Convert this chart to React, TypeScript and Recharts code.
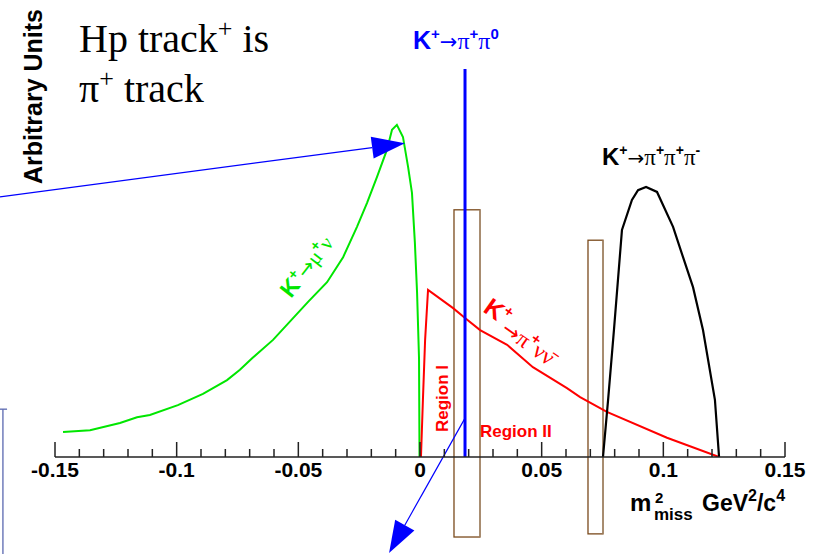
import React from "react";
import { LineChart, Line, XAxis, YAxis, ReferenceLine, ReferenceArea } from "recharts";

const SANS = "'Liberation Sans', Arial, sans-serif";
const SERIF = "'Liberation Serif', 'Times New Roman', serif";
const ARROW = "'DejaVu Sans', sans-serif";

// x ticks every 0.01, labels only on the 0.05 multiples
const xTicks = [
  -0.15, -0.14, -0.13, -0.12, -0.11, -0.1, -0.09, -0.08, -0.07, -0.06, -0.05,
  -0.04, -0.03, -0.02, -0.01, 0, 0.01, 0.02, 0.03, 0.04, 0.05, 0.06, 0.07,
  0.08, 0.09, 0.1, 0.11, 0.12, 0.13, 0.14, 0.15,
];
const xLabels = ["-0.15", "-0.1", "-0.05", "0", "0.05", "0.1", "0.15"];

// K+ -> mu+ nu
const muNuX = [
  -0.1467, -0.1356, -0.1233, -0.1163, -0.111, -0.0995, -0.0892, -0.0793, -0.074,
  -0.069, -0.0604, -0.046, -0.0382, -0.0316, -0.0259, -0.0218, -0.0177, -0.0136,
  -0.0115, -0.0095, -0.007, -0.0049, -0.0033, -0.0021, -0.0012, -0.0004, -0.0002,
];
const muNuY = [
  5.6, 6.0, 7.6, 8.9, 9.4, 11.6, 14.1, 17.2, 19.5, 22.1, 26.2, 34.7, 39.1, 44.7,
  51.5, 56.8, 62.6, 68.7, 73.2, 74.3, 71.6, 64.9, 59.1, 47.9, 36.7, 22.1, 0,
];

// K+ -> pi+ nu nubar
const piNuNuX = [
  0.0004, 0.0012, 0.0021, 0.0033, 0.0136, 0.0185, 0.0247, 0.0358, 0.0464, 0.0604,
  0.0658, 0.0768, 0.1015, 0.1229,
];
const piNuNuY = [0, 12.8, 26.2, 37.4, 33.3, 31.1, 28.4, 25.1, 20.1, 15.4, 13.4, 10.1, 4.3, 0];

// K+ -> pi+ pi+ pi-
const threePiX = [
  0.0752, 0.0773, 0.0797, 0.083, 0.0871, 0.0896, 0.0929, 0.0974, 0.104, 0.1081,
  0.1122, 0.1163, 0.1212, 0.1229,
];
const threePiY = [0, 12.8, 28.4, 50.8, 57.5, 59.7, 60.4, 59.3, 51.5, 44.7, 38.0, 28.4, 12.8, 0];

// K+ -> pi+ pi0 peak
const piPi0X = [0.0185, 0.0185];
const piPi0Y = [0, 86.8];

// signal regions (x range, y range)
const regionBoxes = [
  { x1: 0.01397, x2: 0.02466, y1: -17.9, y2: 55.3 },
  { x1: 0.06904, x2: 0.07521, y1: -17.2, y2: 48.5 },
];

const toPoints = (xs: number[], ys: number[]) => xs.map((x, i) => ({ x, y: ys[i] }));

const muNu = toPoints(muNuX, muNuY);
const piNuNu = toPoints(piNuNuX, piNuNuY);
const threePi = toPoints(threePiX, threePiY);
const piPi0 = toPoints(piPi0X, piPi0Y);

function fmtTick(v: number): string {
  const s = v === 0 ? "0" : String(v);
  return xLabels.includes(s) ? s : "";
}

function AxisTick(props: any) {
  const { x, y, payload } = props;
  const label = fmtTick(payload.value);
  const major = label !== "";
  return (
    <g>
      <line x1={x} x2={x} y1={y} y2={y - (major ? 15 : 8)} stroke="#222" strokeWidth={1.5} />
      {major && (
        <text x={x} y={y + 20} textAnchor="middle" fontFamily={SANS} fontWeight="bold" fontSize={21} fill="#000">
          {label}
        </text>
      )}
    </g>
  );
}

function arrow(color: string, headLen: number, headHalf: number) {
  return (p: any) => {
    const { x1, y1, x2, y2 } = p;
    const dx = x2 - x1;
    const dy = y2 - y1;
    const len = Math.hypot(dx, dy);
    const ux = dx / len;
    const uy = dy / len;
    const bx = x2 - ux * headLen;
    const by = y2 - uy * headLen;
    const pts = [
      `${x2},${y2}`,
      `${bx - uy * headHalf},${by + ux * headHalf}`,
      `${bx + uy * headHalf},${by - ux * headHalf}`,
    ].join(" ");
    return (
      <g>
        <line x1={x1} y1={y1} x2={bx} y2={by} stroke={color} strokeWidth={1.2} />
        <polygon points={pts} fill={color} />
      </g>
    );
  };
}

function boxShape(p: any) {
  const { x, y, width, height } = p;
  return (
    <g fill="none" strokeWidth={1.3}>
      <rect x={x} y={y} width={width} height={height} stroke="#7a4a1c" />
      <line x1={x + width} x2={x + width} y1={y} y2={y + height} stroke="#a88f74" />
    </g>
  );
}

export default function App() {
  return (
    <div style={{ position: "absolute", left: 0, top: 0, width: 819, height: 554, background: "#fff" }}>
      <LineChart width={819} height={554} margin={{ top: 10, right: 34, bottom: 67, left: 55 }}>
        <XAxis
          type="number"
          dataKey="x"
          domain={[-0.15, 0.15]}
          ticks={xTicks}
          interval={0}
          height={30}
          tickSize={0}
          tickMargin={0}
          tickLine={false}
          tick={<AxisTick />}
          axisLine={{ stroke: "#222", strokeWidth: 1.5 }}
          allowDataOverflow
        />
        <YAxis
          type="number"
          domain={[0, 100]}
          width={0}
          tick={false}
          tickLine={false}
          axisLine={{ stroke: "#222", strokeWidth: 1.5 }}
          allowDataOverflow
        />

        {regionBoxes.map((b, i) => (
          <ReferenceArea key={i} x1={b.x1} x2={b.x2} y1={b.y1} y2={b.y2} ifOverflow="visible" shape={boxShape} />
        ))}

        <Line data={muNu} dataKey="y" type="linear" stroke="#00e600" strokeWidth={2} dot={false} isAnimationActive={false} />
        <Line data={piNuNu} dataKey="y" type="linear" stroke="#ff0000" strokeWidth={2} dot={false} isAnimationActive={false} />
        <Line data={threePi} dataKey="y" type="linear" stroke="#000" strokeWidth={2.2} dot={false} isAnimationActive={false} />
        <Line data={piPi0} dataKey="y" type="linear" stroke="#0000ff" strokeWidth={3} dot={false} isAnimationActive={false} />

        {/* pointer arrows */}
        <ReferenceLine
          segment={[{ x: -0.1726, y: 58.2 }, { x: -0.0062, y: 70.2 }]}
          ifOverflow="visible"
          shape={arrow("#0000ff", 33, 11)}
        />
        <ReferenceLine
          segment={[{ x: 0.0185, y: 8.7 }, { x: -0.0127, y: -21.5 }]}
          ifOverflow="visible"
          shape={arrow("#0000ff", 32, 11)}
        />
        <ReferenceLine
          segment={[{ x: -0.1714, y: 10.7 }, { x: -0.1714, y: -21.7 }]}
          ifOverflow="visible"
          stroke="#5a68b0"
          strokeWidth={1.3}
        />
        <ReferenceLine
          segment={[{ x: -0.1726, y: 10.7 }, { x: -0.1697, y: 10.7 }]}
          ifOverflow="visible"
          stroke="#5a68b0"
          strokeWidth={1.3}
        />
      </LineChart>

      <svg width={819} height={554} style={{ position: "absolute", left: 0, top: 0, pointerEvents: "none" }}>
        <text transform="translate(42, 9) rotate(-90)" textAnchor="end" fontFamily={SANS} fontWeight="bold" fontSize={25} fill="#000">
          Arbitrary Units
        </text>

        <text x={79} y={52} fontFamily={SERIF} fontSize={40} fill="#000">
          Hp track<tspan dy={-15} fontSize={26}>+</tspan><tspan dy={15}> is</tspan>
        </text>
        <text x={79} y={102} fontFamily={SERIF} fontSize={40} fill="#000">
          π<tspan dy={-15} fontSize={26}>+</tspan><tspan dy={15}> track</tspan>
        </text>

        <text x={413} y={49} fill="#0000ff" fontSize={24}>
          <tspan fontFamily={SANS} fontWeight="bold" fontSize={25}>K</tspan>
          <tspan dy={-10} fontFamily={SANS} fontWeight="bold" fontSize={15}>+</tspan>
          <tspan dy={10} fontFamily={ARROW} fontSize={21}>→</tspan>
          <tspan fontFamily={SERIF}>π</tspan>
          <tspan dy={-10} fontFamily={SANS} fontWeight="bold" fontSize={15}>+</tspan>
          <tspan dy={10} fontFamily={SERIF}>π</tspan>
          <tspan dy={-10} fontFamily={SANS} fontWeight="bold" fontSize={15}>0</tspan>
        </text>

        <text x={602} y={165} fill="#000" fontSize={23}>
          <tspan fontFamily={SANS} fontWeight="bold" fontSize={24}>K</tspan>
          <tspan dy={-10} fontFamily={SANS} fontWeight="bold" fontSize={14}>+</tspan>
          <tspan dy={10} fontFamily={ARROW} fontSize={20}>→</tspan>
          <tspan fontFamily={SERIF}>π</tspan>
          <tspan dy={-10} fontFamily={SANS} fontWeight="bold" fontSize={14}>+</tspan>
          <tspan dy={10} fontFamily={SERIF}>π</tspan>
          <tspan dy={-10} fontFamily={SANS} fontWeight="bold" fontSize={14}>+</tspan>
          <tspan dy={10} fontFamily={SERIF}>π</tspan>
          <tspan dy={-10} fontFamily={SANS} fontWeight="bold" fontSize={14}>-</tspan>
        </text>

        <text transform="translate(291, 299) rotate(-52)" fill="#00e600" fontSize={21}>
          <tspan fontFamily={SANS} fontWeight="bold" fontSize={23}>K</tspan>
          <tspan dy={-9} fontFamily={SANS} fontWeight="bold" fontSize={14}>+</tspan>
          <tspan dy={9} fontFamily={ARROW} fontSize={20}>→</tspan>
          <tspan fontFamily={SERIF}>μ</tspan>
          <tspan dy={-9} fontFamily={SANS} fontWeight="bold" fontSize={14}>+</tspan>
          <tspan dy={9} fontFamily={SERIF}>ν</tspan>
        </text>

        <text transform="translate(482, 311) rotate(35)" fill="#ff0000" fontSize={23}>
          <tspan fontFamily={SANS} fontWeight="bold" fontSize={25}>K</tspan>
          <tspan dy={-10} fontFamily={SANS} fontWeight="bold" fontSize={15}>+</tspan>
          <tspan dy={17} fontFamily={ARROW} fontSize={21}>→</tspan>
          <tspan fontFamily={SERIF}>π</tspan>
          <tspan dy={-10} fontFamily={SANS} fontWeight="bold" fontSize={15}>+</tspan>
          <tspan dy={10} fontFamily={SERIF}>νν̄</tspan>
        </text>

        <text transform="translate(448, 432) rotate(-90)" fill="#ff0000" fontFamily={SANS} fontWeight="bold" fontSize={17}>
          Region I
        </text>
        <text x={480} y={437} fill="#ff0000" fontFamily={SANS} fontWeight="bold" fontSize={17}>
          Region II
        </text>

        <text x={630} y={511} fill="#000" fontFamily={SANS} fontWeight="bold" fontSize={24}>
          m
        </text>
        <text x={655} y={503} fill="#000" fontFamily={SANS} fontWeight="bold" fontSize={15}>
          2
        </text>
        <text x={654} y={520} fill="#000" fontFamily={SANS} fontWeight="bold" fontSize={17}>
          miss
        </text>
        <text x={702} y={511} fill="#000" fontFamily={SANS} fontWeight="bold" fontSize={23}>
          GeV<tspan dy={-10} fontSize={16}>2</tspan><tspan dy={10}>/c</tspan><tspan dy={-10} fontSize={16}>4</tspan>
        </text>
      </svg>
    </div>
  );
}
